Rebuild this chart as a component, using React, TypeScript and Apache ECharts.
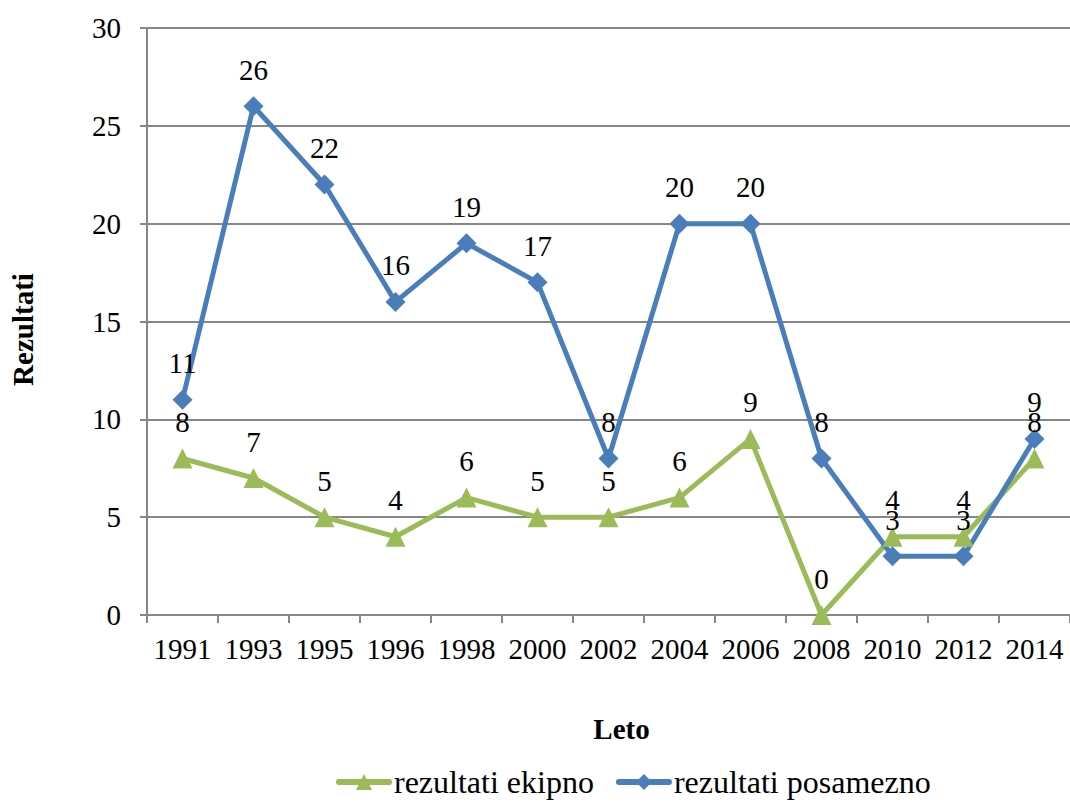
import React, { useEffect, useRef } from "react";
import * as echarts from "echarts";

const years = ["1991", "1993", "1995", "1996", "1998", "2000", "2002", "2004", "2006", "2008", "2010", "2012", "2014"];
const ekipno = [8, 7, 5, 4, 6, 5, 5, 6, 9, 0, 4, 4, 8];
const posamezno = [11, 26, 22, 16, 19, 17, 8, 20, 20, 8, 3, 3, 9];

const FONT = "'Liberation Serif', 'Times New Roman', serif";
const GREEN = "#9BBB59";
const BLUE = "#4A7EBB";
const FS = 29;

export default function App() {
  const ref = useRef<HTMLDivElement>(null);
  useEffect(() => {
    document.body.style.margin = "0";
    const chart = echarts.init(ref.current!, null, { renderer: "svg" });
    const labelCfg = {
      show: true,
      position: "top",
      distance: 12,
      fontFamily: FONT,
      fontSize: FS,
      color: "#000",
    };
    chart.setOption({
      animation: false,
      textStyle: { fontFamily: FONT },
      grid: { left: 145, right: 0, top: 28, bottom: 188 },
      legend: {
        bottom: 0,
        left: 331,
        itemWidth: 50,
        itemHeight: 20,
        itemGap: 22,
        lineStyle: { width: 6, cap: "round" },
        textStyle: { fontFamily: FONT, fontSize: 32, color: "#000" },
        data: ["rezultati ekipno", "rezultati posamezno"],
      },
      xAxis: {
        type: "category",
        data: years,
        boundaryGap: true,
        name: "Leto",
        nameLocation: "middle",
        nameGap: 99,
        nameTextStyle: { fontFamily: FONT, fontSize: FS, fontWeight: "bold", color: "#000", padding: [0, 0, 0, 26] },
        axisLine: { lineStyle: { color: "#868686", width: 2 } },
        axisTick: { show: true, interval: 0, length: 8, lineStyle: { color: "#868686", width: 2 } },
        axisLabel: { interval: 0, fontFamily: FONT, fontSize: FS, color: "#000", margin: 19 },
      },
      yAxis: {
        type: "value",
        min: 0,
        max: 30,
        interval: 5,
        name: "Rezultati",
        nameLocation: "middle",
        nameGap: 110,
        nameTextStyle: { fontFamily: FONT, fontSize: FS, fontWeight: "bold", color: "#000", padding: [0, 16, 0, 0] },
        axisLine: { show: true, lineStyle: { color: "#868686", width: 2 } },
        axisTick: { show: true, length: 7, lineStyle: { color: "#868686", width: 2 } },
        axisLabel: { fontFamily: FONT, fontSize: FS, color: "#000", margin: 26 },
        splitLine: { lineStyle: { color: "#868686", width: 2 } },
      },
      series: [
        {
          name: "rezultati ekipno",
          type: "line",
          data: ekipno,
          symbol: "triangle",
          symbolSize: 20,
          itemStyle: { color: GREEN },
          lineStyle: { color: GREEN, width: 5 },
          label: labelCfg,
        },
        {
          name: "rezultati posamezno",
          type: "line",
          data: posamezno,
          symbol: "diamond",
          symbolSize: 20,
          itemStyle: { color: BLUE },
          lineStyle: { color: BLUE, width: 5 },
          label: labelCfg,
        },
      ],
    });
    return () => chart.dispose();
  }, []);
  return <div ref={ref} style={{ width: 1070, height: 803 }} />;
}
